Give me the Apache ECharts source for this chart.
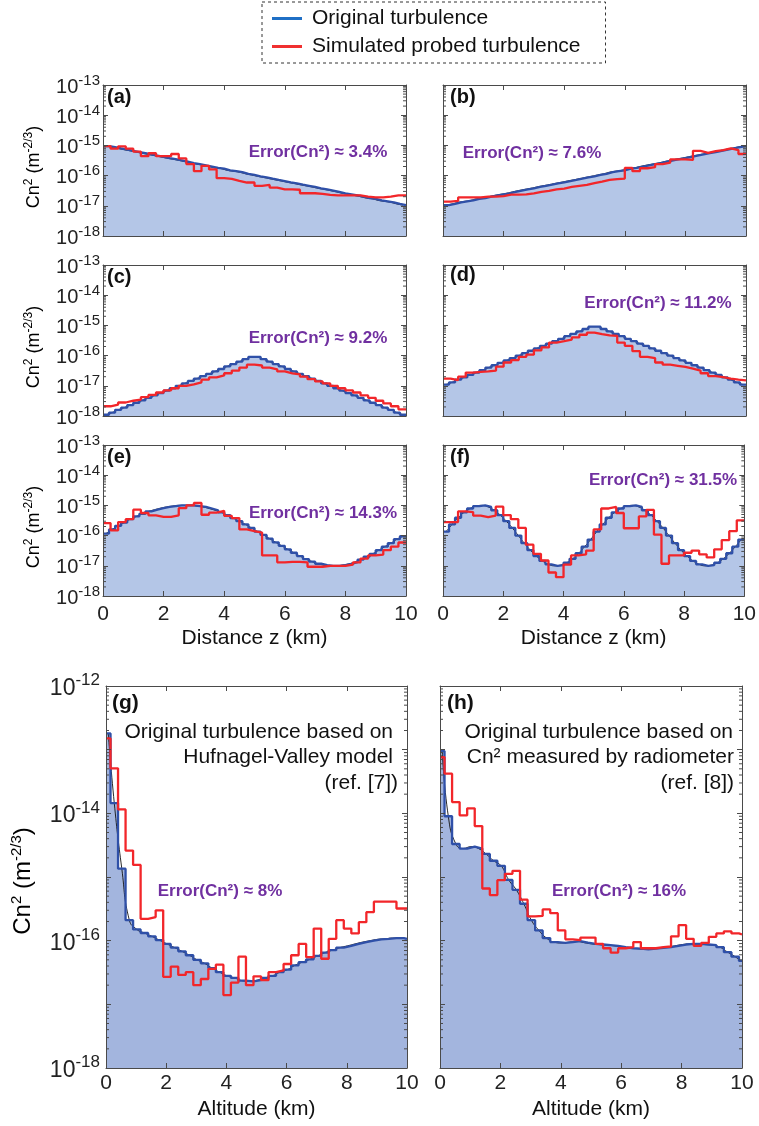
<!DOCTYPE html>
<html>
<head>
<meta charset="utf-8">
<script src="https://cdn.jsdelivr.net/npm/echarts@6/dist/echarts.min.js"></script>
<style>
  html, body { margin: 0; padding: 0; background: #ffffff; }
  #chart { width: 759px; height: 1126px; }
</style>
</head>
<body>
<div id="chart"></div>
<script>
const FONT = "'Liberation Sans', Arial, Helvetica, sans-serif";
const BLUE = '#2f50a8';
const RED = '#f2262a';
const FILL_TOP = '#b4c6e7';
const FILL_BOT = '#a3b5de';
const PURPLE = '#7030a0';
const FRAME = '#4a4a4a';

// ---- Cn2 per bin (m^-2/3): original profile and simulated probed profile ----
const origA = [9.5e-16, 8.7e-16, 7.9e-16, 7.2e-16, 6.6e-16, 6.0e-16, 5.5e-16, 5.0e-16, 4.6e-16, 4.2e-16,
  3.8e-16, 3.5e-16, 3.2e-16, 2.9e-16, 2.6e-16, 2.4e-16, 2.2e-16, 2.0e-16, 1.8e-16, 1.7e-16,
  1.5e-16, 1.4e-16, 1.3e-16, 1.15e-16, 1.05e-16, 9.5e-17, 8.7e-17, 7.9e-17, 7.2e-17, 6.6e-17,
  6.0e-17, 5.5e-17, 5.0e-17, 4.6e-17, 4.2e-17, 3.8e-17, 3.5e-17, 3.2e-17, 2.9e-17, 2.6e-17,
  2.4e-17, 2.2e-17, 2.0e-17, 1.8e-17, 1.7e-17, 1.5e-17, 1.4e-17, 1.3e-17, 1.15e-17, 1.05e-17];
const probA = [9.5e-16, 7.8e-16, 9.3e-16, 7.8e-16, 6.2e-16, 4.4e-16, 5.5e-16, 4.4e-16, 4.4e-16, 5.2e-16,
  3.7e-16, 2.4e-16, 1.4e-16, 2.1e-16, 1.6e-16, 8.2e-17, 7.8e-17, 6.7e-17, 5.9e-17, 5.9e-17,
  4.6e-17, 4.9e-17, 4.0e-17, 3.5e-17, 3.5e-17, 3.4e-17, 2.6e-17, 2.6e-17, 2.5e-17, 2.3e-17,
  2.2e-17, 2.2e-17, 2.2e-17, 2.2e-17, 2.0e-17, 1.9e-17, 1.9e-17, 2.0e-17, 2.2e-17, 2.2e-17];

const origB = [1.05e-17, 1.15e-17, 1.3e-17, 1.4e-17, 1.5e-17, 1.7e-17, 1.8e-17, 2.0e-17, 2.2e-17, 2.4e-17,
  2.6e-17, 2.9e-17, 3.2e-17, 3.5e-17, 3.8e-17, 4.2e-17, 4.6e-17, 5.0e-17, 5.5e-17, 6.0e-17,
  6.6e-17, 7.2e-17, 7.9e-17, 8.7e-17, 9.5e-17, 1.05e-16, 1.15e-16, 1.3e-16, 1.4e-16, 1.5e-16,
  1.7e-16, 1.8e-16, 2.0e-16, 2.2e-16, 2.4e-16, 2.6e-16, 2.9e-16, 3.2e-16, 3.5e-16, 3.8e-16,
  4.2e-16, 4.6e-16, 5.0e-16, 5.5e-16, 6.0e-16, 6.6e-16, 7.2e-16, 7.9e-16, 8.7e-16, 9.5e-16];
const probB = [1.38e-17, 1.45e-17, 1.9e-17, 1.9e-17, 1.9e-17, 2.0e-17, 2.0e-17, 2.1e-17, 2.35e-17, 2.35e-17,
  2.4e-17, 2.6e-17, 2.9e-17, 3.1e-17, 3.5e-17, 3.7e-17, 4.2e-17, 4.6e-17, 4.9e-17, 5.6e-17,
  6.3e-17, 7.2e-17, 7.6e-17, 8.0e-17, 1.8e-16, 1.4e-16, 1.75e-16, 1.9e-16, 2.4e-16, 2.7e-16,
  3.45e-16, 3.45e-16, 3.3e-16, 6.6e-16, 5.7e-16, 6.5e-16, 7.0e-16, 8.0e-16, 7.0e-16, 5.2e-16];

const origC = [1.1e-18, 1.3e-18, 1.6e-18, 1.9e-18, 2.3e-18, 2.75e-18, 3.3e-18, 4.0e-18, 4.8e-18, 5.75e-18,
  6.9e-18, 8.3e-18, 1.0e-17, 1.2e-17, 1.45e-17, 1.74e-17, 2.1e-17, 2.5e-17, 3.0e-17, 3.6e-17,
  4.4e-17, 5.25e-17, 6.3e-17, 7.6e-17, 9.1e-17, 9.1e-17, 7.6e-17, 6.3e-17, 5.25e-17, 4.4e-17,
  3.6e-17, 3.0e-17, 2.5e-17, 2.1e-17, 1.74e-17, 1.45e-17, 1.2e-17, 1.0e-17, 8.3e-18, 6.9e-18,
  5.75e-18, 4.8e-18, 4.0e-18, 3.3e-18, 2.75e-18, 2.3e-18, 1.9e-18, 1.6e-18, 1.3e-18, 1.1e-18];
const probC = [2.1e-18, 2.4e-18, 2.8e-18, 3.2e-18, 3.5e-18, 4.2e-18, 5.0e-18, 6.0e-18, 7.1e-18, 8.3e-18,
  1.0e-17, 1.12e-17, 1.3e-17, 1.6e-17, 1.9e-17, 2.2e-17, 2.6e-17, 3.2e-17, 4.0e-17, 5.0e-17,
  4.7e-17, 4.0e-17, 3.5e-17, 3.0e-17, 2.6e-17, 2.4e-17, 2.0e-17, 1.66e-17, 1.4e-17, 1.2e-17,
  1.0e-17, 8.3e-18, 7.1e-18, 6.0e-18, 4.8e-18, 4.0e-18, 3.2e-18, 2.6e-18, 2.1e-18, 1.66e-18];

const origD = [1.1e-17, 1.3e-17, 1.6e-17, 1.9e-17, 2.3e-17, 2.75e-17, 3.3e-17, 4.0e-17, 4.8e-17, 5.75e-17,
  6.9e-17, 8.3e-17, 1.0e-16, 1.2e-16, 1.45e-16, 1.74e-16, 2.1e-16, 2.5e-16, 3.0e-16, 3.6e-16,
  4.4e-16, 5.25e-16, 6.3e-16, 7.6e-16, 9.1e-16, 9.1e-16, 7.6e-16, 6.3e-16, 5.25e-16, 4.4e-16,
  3.6e-16, 3.0e-16, 2.5e-16, 2.1e-16, 1.74e-16, 1.45e-16, 1.2e-16, 1.0e-16, 8.3e-17, 6.9e-17,
  5.75e-17, 4.8e-17, 4.0e-17, 3.3e-17, 2.75e-17, 2.3e-17, 1.9e-17, 1.6e-17, 1.3e-17, 1.1e-17];
const probD = [1.74e-17, 1.55e-17, 2.0e-17, 2.75e-17, 2.9e-17, 3.0e-17, 3.2e-17, 4.3e-17, 5.9e-17, 7.1e-17,
  9.1e-17, 1.07e-16, 1.5e-16, 1.86e-16, 2.7e-16, 3.0e-16, 3.4e-16, 4.0e-16, 4.9e-16, 5.75e-16,
  5.1e-16, 4.7e-16, 4.5e-16, 2.7e-16, 2.1e-16, 1.4e-16, 9.1e-17, 8.3e-17, 5.9e-17, 5.0e-17,
  4.6e-17, 4.2e-17, 3.7e-17, 3.2e-17, 2.6e-17, 2.1e-17, 1.95e-17, 1.74e-17, 1.6e-17, 1.5e-17];

const origE = [1.17e-16, 1.6e-16, 2.1e-16, 2.7e-16, 3.5e-16, 4.3e-16, 5.25e-16, 6.3e-16, 7.2e-16, 8.1e-16,
  8.9e-16, 9.5e-16, 1.0e-15, 1.0e-15, 1.0e-15, 9.5e-16, 8.9e-16, 7.9e-16, 6.9e-16, 5.9e-16,
  4.8e-16, 3.8e-16, 3.0e-16, 2.35e-16, 1.8e-16, 1.35e-16, 1.05e-16, 7.9e-17, 6.0e-17, 4.6e-17,
  3.5e-17, 2.7e-17, 2.1e-17, 1.66e-17, 1.38e-17, 1.17e-17, 1.05e-17, 1.0e-17, 1.0e-17, 1.05e-17,
  1.15e-17, 1.32e-17, 1.6e-17, 2.0e-17, 2.5e-17, 3.3e-17, 4.3e-17, 5.6e-17, 7.6e-17, 9.5e-17];
const probE = [2.6e-16, 1.5e-16, 2.8e-16, 3.5e-16, 7.2e-16, 5.6e-16, 4.7e-16, 4.2e-16, 4.2e-16, 4.7e-16,
  8.1e-16, 1.0e-15, 1.2e-15, 4.9e-16, 5.75e-16, 6.6e-16, 4.5e-16, 3.8e-16, 1.6e-16, 1.4e-16,
  1.26e-16, 2.2e-17, 2.2e-17, 1.3e-17, 1.35e-17, 1.35e-17, 1.3e-17, 9.3e-18, 9.3e-18, 1.0e-17,
  1.0e-17, 1.0e-17, 1.1e-17, 1.3e-17, 1.74e-17, 2.2e-17, 2.35e-17, 3.3e-17, 4.3e-17, 5.9e-17];

const origF = [1.35e-16, 2.34e-16, 3.9e-16, 5.9e-16, 7.9e-16, 9.5e-16, 1.0e-15, 8.9e-16, 6.9e-16, 4.8e-16,
  3.0e-16, 1.8e-16, 1.0e-16, 5.6e-17, 3.3e-17, 2.1e-17, 1.45e-17, 1.12e-17, 1.0e-17, 1.05e-17,
  1.26e-17, 1.7e-17, 2.6e-17, 4.3e-17, 7.4e-17, 1.35e-16, 2.34e-16, 3.9e-16, 5.9e-16, 7.9e-16,
  9.5e-16, 1.0e-15, 8.9e-16, 6.9e-16, 4.8e-16, 3.0e-16, 1.8e-16, 1.0e-16, 5.6e-17, 3.3e-17,
  2.1e-17, 1.45e-17, 1.12e-17, 1.0e-17, 1.05e-17, 1.26e-17, 1.7e-17, 2.6e-17, 4.3e-17, 7.4e-17];
const probF = [2.8e-16, 2.8e-16, 6.3e-16, 6.0e-16, 4.6e-16, 4.1e-16, 4.6e-16, 9.1e-16, 4.8e-16, 3.5e-16,
  1.8e-16, 5.0e-17, 2.5e-17, 1.5e-17, 6.0e-18, 4.2e-18, 1.1e-17, 2.2e-17, 2.4e-17, 3.2e-17,
  1.6e-16, 7.9e-16, 8.9e-16, 5.6e-16, 1.75e-16, 1.75e-16, 4.3e-16, 7.1e-16, 1.07e-16, 1.17e-17,
  2.2e-17, 2.2e-17, 2.7e-17, 3.2e-17, 2.4e-17, 1.9e-17, 3.5e-17, 7.1e-17, 1.4e-16, 3.2e-16];

const origG = [1.8e-13, 1.45e-14, 1.35e-15, 2.1e-16, 1.5e-16, 1.32e-16, 1.17e-16, 1.02e-16, 8.9e-17, 7.8e-17,
  6.8e-17, 5.9e-17, 5.0e-17, 4.4e-17, 3.7e-17, 3.2e-17, 2.8e-17, 2.6e-17, 2.35e-17, 2.3e-17,
  2.4e-17, 2.6e-17, 2.8e-17, 3.2e-17, 3.5e-17, 4.1e-17, 4.6e-17, 5.1e-17, 5.75e-17, 6.5e-17,
  7.1e-17, 7.8e-17, 8.3e-17, 8.9e-17, 9.5e-17, 1.0e-16, 1.05e-16, 1.07e-16, 1.1e-16, 1.1e-16, 1.07e-16];
const probG = [1.5e-13, 5.1e-14, 1.15e-14, 2.6e-15, 1.55e-15, 2.2e-16, 2.35e-16, 3.0e-16, 2.7e-17, 3.9e-17,
  2.9e-17, 3.2e-17, 2.0e-17, 2.5e-17, 3.6e-17, 4.2e-17, 1.4e-17, 2.2e-17, 5.6e-17, 2.0e-17,
  2.75e-17, 2.4e-17, 3.2e-17, 3.4e-17, 4.3e-17, 5.9e-17, 8.9e-17, 5.5e-17, 1.55e-16, 5.2e-17,
  1.07e-16, 2.1e-16, 1.55e-16, 1.3e-16, 1.95e-16, 2.8e-16, 4.1e-16, 4.1e-16, 4.1e-16, 3.2e-16, 3.2e-16];

const origH = [9.5e-14, 9.0e-15, 3.3e-15, 2.8e-15, 3.0e-15, 2.8e-15, 2.3e-15, 1.8e-15, 1.5e-15, 9.0e-16,
  6.3e-16, 3.8e-16, 2.1e-16, 1.45e-16, 1.1e-16, 9.5e-17, 9.2e-17, 9.5e-17, 9.8e-17, 9.3e-17,
  8.9e-17, 8.7e-17, 8.5e-17, 8.3e-17, 7.9e-17, 7.6e-17, 7.5e-17, 7.3e-17, 7.5e-17, 7.7e-17,
  7.9e-17, 8.3e-17, 8.7e-17, 8.9e-17, 8.9e-17, 8.7e-17, 8.5e-17, 7.9e-17, 6.6e-17, 5.6e-17, 4.8e-17];
const probH = [7.6e-14, 4.2e-14, 1.5e-14, 9.3e-15, 1.2e-14, 6.3e-15, 6.6e-16, 5.2e-16, 8.9e-16, 1.12e-15,
  1.25e-15, 4.4e-16, 2.4e-16, 2.45e-16, 3.1e-16, 2.7e-16, 1.45e-16, 1.05e-16, 1.02e-16, 1.12e-16,
  1.12e-16, 8.9e-17, 7.6e-17, 6.5e-17, 7.6e-17, 7.9e-17, 9.5e-17, 7.6e-17, 7.6e-17, 7.9e-17,
  8.1e-17, 1.17e-16, 1.75e-16, 1.07e-16, 8.3e-17, 9.2e-17, 1.15e-16, 1.3e-16, 1.4e-16, 1.3e-16, 1.25e-16];

// ---- bin edges (km) ----
const fineEdges = [];
for (let i = 0; i <= 50; i++) fineEdges.push(+(i * 0.2).toFixed(2));
const coarseEdges = [];
for (let i = 0; i <= 40; i++) coarseEdges.push(+(i * 0.25).toFixed(2));
const altEdges = [0];
for (let k = 0; k < 40; k++) altEdges.push(+(0.15 + 0.25 * k).toFixed(2));
altEdges.push(10);

const errorValues = ['3.4%', '7.6%', '9.2%', '11.2%', '14.3%', '31.5%', '8%', '16%'];
const panelTags = ['(a)', '(b)', '(c)', '(d)', '(e)', '(f)', '(g)', '(h)'];

// ---- panel layout ----
const panels = [
  { orig: origA, prob: probA, oE: fineEdges, pE: coarseEdges, box: [103, 85, 303, 151], yr: [-18, -13], big: false, xLab: false, yLab: true, tag: [107, 97], err: [318, 152] },
  { orig: origB, prob: probB, oE: fineEdges, pE: coarseEdges, box: [443, 85, 303, 151], yr: [-18, -13], big: false, xLab: false, yLab: false, tag: [450, 97], err: [532, 153] },
  { orig: origC, prob: probC, oE: fineEdges, pE: coarseEdges, box: [103, 265, 303, 151], yr: [-18, -13], big: false, xLab: false, yLab: true, tag: [107, 277], err: [318, 338] },
  { orig: origD, prob: probD, oE: fineEdges, pE: coarseEdges, box: [443, 265, 303, 151], yr: [-18, -13], big: false, xLab: false, yLab: false, tag: [450, 275], err: [658, 303] },
  { orig: origE, prob: probE, oE: fineEdges, pE: coarseEdges, box: [103, 445, 303, 151], yr: [-18, -13], big: false, xLab: true, yLab: true, tag: [107, 457], err: [323, 513], xName: 'Distance z (km)' },
  { orig: origF, prob: probF, oE: fineEdges, pE: coarseEdges, box: [443, 445, 303, 151], yr: [-18, -13], big: false, xLab: true, yLab: false, tag: [450, 457], err: [663, 480], xName: 'Distance z (km)' },
  { orig: origG, prob: probG, oE: altEdges, pE: altEdges, box: [106, 686, 301, 382], yr: [-18, -12], big: true, xLab: true, yLab: true, tag: [112, 703], err: [220, 891], xName: 'Altitude (km)' },
  { orig: origH, prob: probH, oE: altEdges, pE: altEdges, box: [440, 686, 302, 382], yr: [-18, -12], big: true, xLab: true, yLab: false, tag: [447, 703], err: [619, 891], xName: 'Altitude (km)' }
];

function stepPoints(edges, vals) {
  const pts = vals.map((v, i) => [edges[i], v]);
  pts.push([edges[vals.length], vals[vals.length - 1]]);
  return pts;
}
function centerPoints(edges, vals) {
  return vals.map((v, i) => [(edges[i] + edges[i + 1]) / 2, v]);
}
function minorTickRows(e0, e1) {
  const rows = [];
  for (let e = e0; e < e1; e++) for (let k = 2; k <= 9; k++) rows.push([0, k * Math.pow(10, e)]);
  return rows;
}

const grids = [], xAxes = [], yAxes = [], series = [], graphics = [];

panels.forEach((p, i) => {
  const [L, T, W, H] = p.box;
  grids.push({ left: L, top: T, width: W, height: H, show: false });
  const tickStyle = { lineStyle: { color: FRAME, width: 1 } };
  const xBase = {
    gridIndex: i, type: 'value', min: 0, max: 10, interval: 2, z: 10,
    axisLine: { show: true, onZero: false, lineStyle: { color: FRAME, width: 1 } },
    axisTick: Object.assign({ inside: true, length: 5 }, tickStyle),
    splitLine: { show: false }
  };
  xAxes.push(Object.assign({}, xBase, {
    position: 'bottom',
    axisLabel: { show: p.xLab, fontSize: 21, fontFamily: FONT, color: '#222', margin: p.big ? 5 : 8 },
    name: p.xName || '', nameLocation: 'middle', nameGap: p.big ? 31 : 32,
    nameTextStyle: { fontSize: 21, fontFamily: FONT, color: '#111' }
  }));
  xAxes.push(Object.assign({}, xBase, { position: 'top', axisLabel: { show: false } }));

  const bFs = p.big ? 23 : 20, sFs = p.big ? 17 : 15;
  const yBase = {
    gridIndex: i, type: 'log', logBase: 10, min: Math.pow(10, p.yr[0]), max: Math.pow(10, p.yr[1]),
    splitNumber: p.yr[1] - p.yr[0], z: 10,
    axisLine: { show: true, onZero: false, lineStyle: { color: FRAME, width: 1 } },
    axisTick: Object.assign({ inside: true, length: 5 }, tickStyle),
    splitLine: { show: false }
  };
  yAxes.push(Object.assign({}, yBase, {
    position: 'left',
    axisLabel: {
      show: p.yLab, margin: p.big ? 6 : 3,
      formatter: v => {
        const e = Math.round(Math.log10(v));
        if (p.big && e % 2 !== 0) return '';
        return '{b|10}{s|' + e + '}';
      },
      rich: {
        b: { fontSize: bFs, fontFamily: FONT, color: '#222', verticalAlign: 'bottom' },
        s: { fontSize: sFs, fontFamily: FONT, color: '#222', verticalAlign: 'bottom', padding: [0, 0, p.big ? 11 : 9, 0] }
      }
    }
  }));
  yAxes.push(Object.assign({}, yBase, { position: 'right', axisLabel: { show: false } }));

  const xi = 2 * i, yi = 2 * i;
  const blueSteps = stepPoints(p.oE, p.orig);
  // shaded area under the original profile
  series.push({
    type: 'line', xAxisIndex: xi, yAxisIndex: yi, silent: true,
    data: blueSteps, step: 'end', showSymbol: false, symbol: 'none', z: 1,
    lineStyle: { width: 0, opacity: 0 },
    areaStyle: { color: p.big ? FILL_BOT : FILL_TOP, opacity: 1, origin: 'start' }
  });
  // continuous profile drawn through the bin centres
  series.push({
    type: 'line', xAxisIndex: xi, yAxisIndex: yi, silent: true,
    data: centerPoints(p.oE, p.orig), smooth: 0.5, showSymbol: false, symbol: 'none', z: 2,
    lineStyle: { color: '#111', width: 0.9 }
  });
  series.push({
    name: 'Original turbulence', type: 'line', xAxisIndex: xi, yAxisIndex: yi,
    data: blueSteps, step: 'end', showSymbol: false, symbol: 'none', z: 3,
    itemStyle: { color: BLUE },
    lineStyle: { color: BLUE, width: 2.3 }
  });
  series.push({
    name: 'Simulated probed turbulence', type: 'line', xAxisIndex: xi, yAxisIndex: yi,
    data: stepPoints(p.pE, p.prob), step: 'end', showSymbol: false, symbol: 'none', z: 4,
    itemStyle: { color: RED },
    lineStyle: { color: RED, width: 2.3 }
  });
  // minor log ticks on both vertical edges
  series.push({
    type: 'custom', xAxisIndex: xi, yAxisIndex: yi, silent: true, z: 11,
    data: minorTickRows(p.yr[0], p.yr[1]), encode: { x: 0, y: 1 },
    renderItem: (params, api) => {
      const v = api.value(1);
      const a = api.coord([0, v]), b = api.coord([10, v]);
      return {
        type: 'group', children: [
          { type: 'line', shape: { x1: a[0], y1: a[1], x2: a[0] + 3, y2: a[1] }, style: { stroke: FRAME, lineWidth: 1 } },
          { type: 'line', shape: { x1: b[0] - 3, y1: b[1], x2: b[0], y2: b[1] }, style: { stroke: FRAME, lineWidth: 1 } }
        ]
      };
    }
  });

  graphics.push({
    type: 'text', x: p.tag[0], y: p.tag[1], z: 20,
    style: { text: panelTags[i], font: 'bold ' + (p.big ? 21 : 20) + 'px ' + FONT, fill: '#111',
      align: 'left', verticalAlign: 'middle', textAlign: 'left', textVerticalAlign: 'middle' }
  });
  graphics.push({
    type: 'text', x: p.err[0], y: p.err[1], z: 20,
    style: { text: 'Error(Cn\u00b2) \u2248 ' + errorValues[i], font: 'bold 17px ' + FONT, fill: PURPLE,
      align: 'center', verticalAlign: 'middle', textAlign: 'center', textVerticalAlign: 'middle' }
  });
});

// y-axis titles
const yTitleTop = { n: { fontSize: 18, fontFamily: FONT, color: '#111', verticalAlign: 'bottom' },
  s: { fontSize: 12, fontFamily: FONT, color: '#111', verticalAlign: 'bottom', padding: [0, 0, 8, 0] } };
const yTitleBig = { n: { fontSize: 24, fontFamily: FONT, color: '#111', verticalAlign: 'bottom' },
  s: { fontSize: 15, fontFamily: FONT, color: '#111', verticalAlign: 'bottom', padding: [0, 0, 11, 0] } };
const yTitleText = '{n|Cn}{s|2}{n| (m}{s|-2/3}{n|)}';
[[33, 167], [33, 347], [33, 527]].forEach(pos => {
  graphics.push({ type: 'text', x: pos[0], y: pos[1], rotation: Math.PI / 2, z: 20,
    style: { text: yTitleText, rich: yTitleTop, align: 'center', verticalAlign: 'middle', textAlign: 'center', textVerticalAlign: 'middle' } });
});
graphics.push({ type: 'text', x: 22, y: 881, rotation: Math.PI / 2, z: 20,
  style: { text: yTitleText, rich: yTitleBig, align: 'center', verticalAlign: 'middle', textAlign: 'center', textVerticalAlign: 'middle' } });

// descriptive notes inside (g) and (h)
function note(x, y, text) {
  graphics.push({ type: 'text', x: x, y: y, z: 20,
    style: { text: text, font: '21px ' + FONT, fill: '#111', align: 'right', verticalAlign: 'middle', textAlign: 'right', textVerticalAlign: 'middle' } });
}
note(393, 732, 'Original turbulence based on');
note(393, 757, 'Hufnagel-Valley model');
note(398, 783, '(ref. [7])');
note(733, 732, 'Original turbulence based on');
note(734, 757, 'Cn\u00b2 measured by radiometer');
note(734, 783, '(ref. [8])');

const chart = echarts.init(document.getElementById('chart'), null, { renderer: 'canvas' });
chart.setOption({
  animation: false,
  backgroundColor: '#ffffff',
  legend: {
    orient: 'vertical', left: 262, top: 2,
    padding: [6, 25, 6, 10], itemGap: 7, itemWidth: 30, itemHeight: 3, icon: 'rect',
    borderColor: '#333', borderWidth: 1, borderType: [3, 3],
    textStyle: { fontSize: 21, fontFamily: FONT, color: '#111', padding: [0, 0, 0, 5] },
    data: [
      { name: 'Original turbulence', itemStyle: { color: '#1f6fc5' } },
      { name: 'Simulated probed turbulence', itemStyle: { color: '#f03030' } }
    ]
  },
  grid: grids,
  xAxis: xAxes,
  yAxis: yAxes,
  series: series,
  graphic: graphics
});
</script>
</body>
</html>
